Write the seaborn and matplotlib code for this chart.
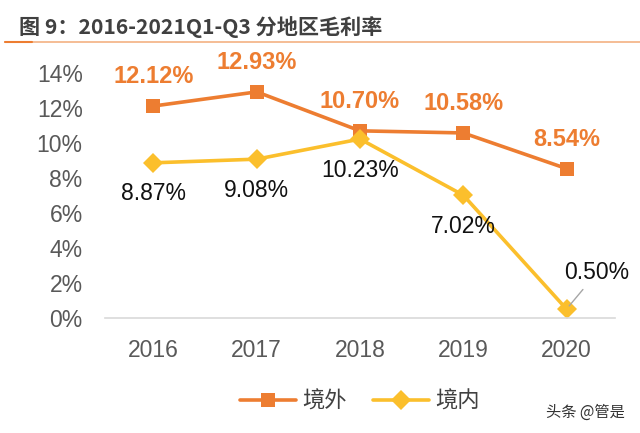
import matplotlib
matplotlib.use("Agg")
import matplotlib.pyplot as plt
import seaborn as sns
import pandas as pd

# data
years = ["2016", "2017", "2018", "2019", "2020"]
overseas = [12.12, 12.93, 10.70, 10.58, 8.54]   # 境外
domestic = [8.87, 9.08, 10.23, 7.02, 0.50]      # 境内
y_ticks = [0, 2, 4, 6, 8, 10, 12, 14]

ORANGE = "#ED7D31"
YELLOW = "#FBBF2C"

sns.set_theme(style="white")
plt.rcParams["font.family"] = ["Liberation Sans", "Noto Sans CJK SC", "DejaVu Sans"]

df = pd.DataFrame({
    "year": years * 2,
    "rate": overseas + domestic,
    "region": ["境外"] * 5 + ["境内"] * 5,
})

fig = plt.figure(figsize=(6.4, 4.33), dpi=100)
ax = fig.add_axes([0.164, 0.266, 0.797, 0.565])

sns.lineplot(data=df, x="year", y="rate", hue="region", style="region",
             palette={"境外": ORANGE, "境内": YELLOW},
             markers={"境外": "s", "境内": "D"}, dashes=False,
             markersize=10, linewidth=2.6, markeredgewidth=0, sort=False, ax=ax,
             clip_on=False)

ax.set_ylim(0, 14)
ax.set_xlim(-0.47, 4.47)
ax.set_yticks(y_ticks)
ax.set_yticklabels([f"{t}%" for t in y_ticks])
ax.tick_params(axis="both", labelsize=16.5, colors="#595959", length=0)
ax.tick_params(axis="y", pad=16)
ax.tick_params(axis="x", pad=15)
ax.set_xlabel("")
ax.set_ylabel("")
for s in ["top", "right", "left"]:
    ax.spines[s].set_visible(False)
ax.spines["bottom"].set_color("#D9D9D9")
ax.spines["bottom"].set_linewidth(1.2)

# value labels
for i, v in enumerate(overseas):
    ax.annotate(f"{v:.2f}%", (i, v), xytext=(0, 13), textcoords="offset points",
                ha="center", va="bottom", fontsize=17, fontweight="bold", color=ORANGE)
for i, v in enumerate(domestic):
    if i == 4:
        ax.annotate(f"{v:.2f}%", (i, v), xytext=(22, 18), textcoords="offset points",
                    ha="center", va="bottom", fontsize=16.5, color="#111111",
                    arrowprops=dict(arrowstyle="-", color="#A6A6A6", lw=1,
                                    shrinkA=2, shrinkB=3))
    else:
        ax.annotate(f"{v:.2f}%", (i, v), xytext=(0, -14), textcoords="offset points",
                    ha="center", va="top", fontsize=16.5, color="#111111")

# legend
handles, labels = ax.get_legend_handles_labels()
ax.legend(handles, labels, loc="upper center", bbox_to_anchor=(0.5, -0.22),
          ncol=2, frameon=False, fontsize=16, handlelength=2.5, columnspacing=1.2,
          labelcolor="#404040", handletextpad=0.3)

# title and rule
fig.text(0.03, 0.938, "图 9：2016-2021Q1-Q3 分地区毛利率", fontsize=15.2, fontweight="bold",
         color="#404040", ha="left", va="center",
         family=["Noto Sans CJK SC", "DejaVu Sans"])
fig.add_artist(plt.Line2D([0.008, 1.0], [0.903, 0.903], color="#F4B183", lw=1.2,
                          transform=fig.transFigure))
fig.add_artist(plt.Line2D([0.008, 0.05], [0.903, 0.903], color=ORANGE, lw=1.5,
                          transform=fig.transFigure))

# watermark
fig.text(0.977, 0.047, "头条 @管是", fontsize=11, color="#333333", ha="right", va="center",
         family=["Noto Sans CJK SC", "DejaVu Sans"])

fig.savefig("out.png", dpi=100)
